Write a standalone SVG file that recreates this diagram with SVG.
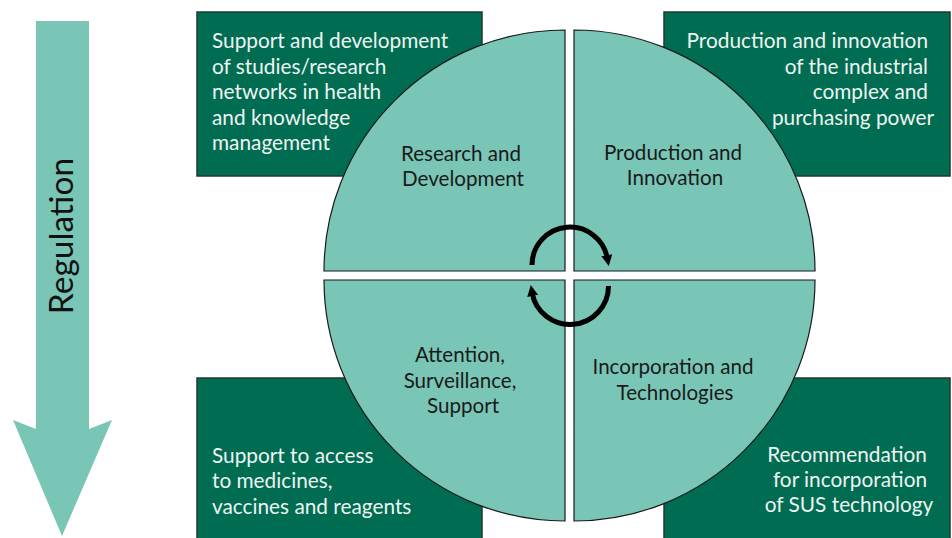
<svg xmlns="http://www.w3.org/2000/svg" width="952" height="538" viewBox="0 0 952 538">
<style>
.box{fill:#006c51;stroke:#1f3a31;stroke-width:1.5}
.quad{fill:#79c5b6;stroke:#1a1a1a;stroke-width:1.2}
.lt{font-family:Lato,"Open Sans","Liberation Sans",sans-serif;font-size:20.8px;fill:#eef4f1}
.dk{font-family:Lato,"Open Sans","Liberation Sans",sans-serif;font-size:20.6px;fill:#1a1a1a;text-anchor:middle}
.cyc{fill:none;stroke:#000;stroke-width:5}
</style>
<defs>
<marker id="ah" viewBox="0 0 10 10" refX="3" refY="5" markerWidth="11" markerHeight="11" markerUnits="userSpaceOnUse" orient="auto">
<path d="M0,0 L10,5 L0,10 z" fill="#000"/>
</marker>
</defs>
<rect width="952" height="538" fill="#fff"/>
<g id="regulation">
<polygon points="36,21 89,21 89,429 112,420 62,536 13,420 36,429" fill="#79c5b6"/>
<text transform="translate(73,236) rotate(-90)" text-anchor="middle" style="font-family:Lato,'Open Sans','Liberation Sans',sans-serif;font-size:33.5px;fill:#111">Regulation</text>
</g>
<g id="box-tl">
<rect class="box" x="197" y="12" width="285" height="164"/>
<text class="lt" x="212"><tspan x="212" y="48">Support and development</tspan><tspan x="212" y="74">of studies/research</tspan><tspan x="212" y="99">networks in health</tspan><tspan x="212" y="125">and knowledge</tspan><tspan x="212" y="150">management</tspan></text>
</g>
<g id="box-tr">
<rect class="box" x="664" y="12" width="286" height="164"/>
<text class="lt" text-anchor="end"><tspan x="928" y="48">Production and innovation</tspan><tspan x="928" y="74">of the industrial</tspan><tspan x="928" y="99">complex and</tspan><tspan x="934" y="125">purchasing power</tspan></text>
</g>
<g id="box-bl">
<rect class="box" x="197" y="378" width="285" height="170"/>
<text class="lt"><tspan x="212" y="463">Support to access</tspan><tspan x="212" y="488">to medicines,</tspan><tspan x="212" y="514">vaccines and reagents</tspan></text>
</g>
<g id="box-br">
<rect class="box" x="664" y="378" width="286" height="170"/>
<text class="lt" text-anchor="middle"><tspan x="847" y="462">Recommendation</tspan><tspan x="850" y="487">for incorporation</tspan><tspan x="849" y="512">of SUS technology</tspan></text>
</g>
<g id="q-rd">
<path class="quad" d="M565,271 L324,271 A241,241 0 0 1 565,30 Z"/>
<text class="dk"><tspan x="461" y="161">Research and</tspan><tspan x="463" y="186">Development</tspan></text>
</g>
<g id="q-pi">
<path class="quad" d="M574,271 L574,30 A241,241 0 0 1 815,271 Z"/>
<text class="dk"><tspan x="673" y="160">Production and</tspan><tspan x="675" y="185">Innovation</tspan></text>
</g>
<g id="q-as">
<path class="quad" d="M565,280 L565,521 A241,241 0 0 1 324,280 Z"/>
<text class="dk"><tspan x="460" y="362">Attention,</tspan><tspan x="460" y="388">Surveillance,</tspan><tspan x="463" y="413">Support</tspan></text>
</g>
<g id="q-it">
<path class="quad" d="M574,280 L815,280 A241,241 0 0 1 574,521 Z"/>
<text class="dk"><tspan x="673" y="374">Incorporation and</tspan><tspan x="675" y="400">Technologies</tspan></text>
</g>
<g id="connectors">
<path class="cyc" d="M532,265 A38,38 0 0 1 607.4,258.4" marker-end="url(#ah)"/>
<path class="cyc" d="M608.5,286 A38.5,38.5 0 0 1 532.1,292.7" marker-end="url(#ah)"/>
</g>
</svg>
